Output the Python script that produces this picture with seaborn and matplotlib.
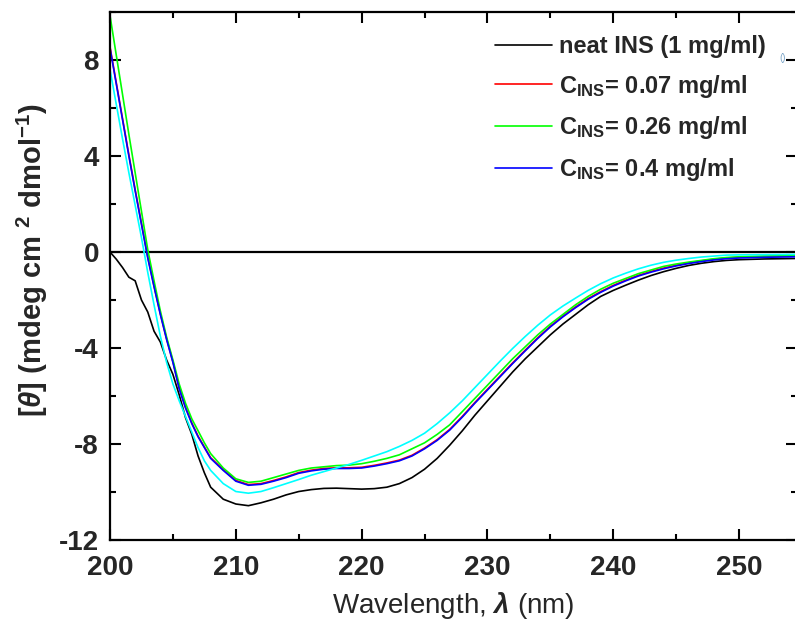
import numpy as np
import pandas as pd
import matplotlib
matplotlib.use("Agg")
import matplotlib.pyplot as plt
import seaborn as sns
from matplotlib.ticker import MultipleLocator

# ---- data ----
wavelength = [200, 200.5, 201, 201.5, 202, 202.5, 203, 203.5, 204, 204.5, 205, 205.5,
              206, 206.5, 207, 207.5, 208, 209, 210, 211, 212, 213, 214, 215, 216, 217,
              218, 219, 220, 221, 222, 223, 224, 225, 226, 227, 228, 229, 230, 231, 232,
              233, 234, 235, 236, 237, 238, 239, 240, 241, 242, 243, 244, 245, 246, 247,
              248, 249, 250, 252, 254.5]

neat_ins = [0.0, -0.3, -0.65, -1.05, -1.2, -2.0, -2.5, -3.3, -3.75, -4.5, -5.1, -5.95,
            -6.9, -7.6, -8.5, -9.2, -9.8, -10.3, -10.5, -10.57, -10.45, -10.3, -10.12, -9.98,
            -9.9, -9.85, -9.84, -9.86, -9.88, -9.86, -9.8, -9.65, -9.4, -9.05, -8.6, -8.05,
            -7.45, -6.8, -6.2, -5.6, -5.0, -4.45, -3.95, -3.45, -3.0, -2.6, -2.2, -1.85,
            -1.6, -1.38, -1.17, -0.98, -0.82, -0.68, -0.56, -0.47, -0.4, -0.35, -0.32,
            -0.29, -0.27]

c_007 = [8.55, 7.05, 5.55, 4.05, 2.6, 1.2, -0.2, -1.42, -2.57, -3.62, -4.57, -5.66,
         -6.46, -7.12, -7.67, -8.12, -8.57, -9.07, -9.52, -9.69, -9.65, -9.52, -9.37, -9.19,
         -9.09, -9.02, -8.99, -8.99, -8.97, -8.89, -8.79, -8.67, -8.47, -8.17, -7.82, -7.39,
         -6.85, -6.27, -5.72, -5.17, -4.62, -4.09, -3.57, -3.09, -2.67, -2.29, -1.94, -1.65,
         -1.39, -1.17, -0.97, -0.81, -0.67, -0.55, -0.45, -0.37, -0.3, -0.25, -0.22,
         -0.19, -0.17]

c_026 = [9.85, 8.2, 6.55, 4.9, 3.3, 1.7, 0.1, -1.2, -2.45, -3.55, -4.5, -5.5,
         -6.3, -6.95, -7.45, -7.95, -8.4, -9.0, -9.45, -9.6, -9.55, -9.4, -9.25, -9.1,
         -9.0, -8.95, -8.9, -8.88, -8.82, -8.72, -8.6, -8.45, -8.2, -7.95, -7.6, -7.2,
         -6.65, -6.1, -5.55, -5.0, -4.45, -3.95, -3.45, -3.0, -2.6, -2.2, -1.85, -1.55,
         -1.3, -1.1, -0.9, -0.75, -0.6, -0.5, -0.42, -0.35, -0.28, -0.23, -0.2,
         -0.17, -0.15]

c_040 = [8.5, 7.0, 5.5, 4.0, 2.55, 1.15, -0.25, -1.45, -2.6, -3.65, -4.6, -5.7,
         -6.5, -7.15, -7.7, -8.15, -8.6, -9.1, -9.55, -9.72, -9.68, -9.55, -9.4, -9.22,
         -9.12, -9.05, -9.02, -9.02, -9.0, -8.92, -8.82, -8.7, -8.5, -8.2, -7.85, -7.42,
         -6.88, -6.3, -5.75, -5.2, -4.65, -4.12, -3.6, -3.12, -2.7, -2.32, -1.97, -1.68,
         -1.42, -1.2, -1.0, -0.84, -0.7, -0.58, -0.48, -0.4, -0.33, -0.28, -0.25,
         -0.22, -0.2]

extra = [7.6, 6.15, 4.7, 3.3, 1.95, 0.6, -0.85, -2.2, -3.5, -4.6, -5.5, -6.2,
         -6.85, -7.5, -8.15, -8.7, -9.1, -9.65, -9.98, -10.05, -9.98, -9.82, -9.65, -9.48,
         -9.3, -9.15, -9.0, -8.85, -8.68, -8.5, -8.32, -8.1, -7.85, -7.55, -7.15, -6.7,
         -6.2, -5.65, -5.1, -4.55, -4.02, -3.52, -3.05, -2.62, -2.25, -1.92, -1.6, -1.32,
         -1.08, -0.88, -0.7, -0.55, -0.43, -0.34, -0.27, -0.21, -0.17, -0.13, -0.12,
         -0.11, -0.1]

labels = ["neat INS (1 mg/ml)",
          r"C$_{\mathbf{INS}}$= 0.07 mg/ml",
          r"C$_{\mathbf{INS}}$= 0.26 mg/ml",
          r"C$_{\mathbf{INS}}$= 0.4 mg/ml",
          "_nolegend_"]
colors = ["#000000", "#ff0000", "#00ff00", "#0000ff", "#00ffff"]
xticks = [200, 210, 220, 230, 240, 250]
yticks = [-12, -8, -4, 0, 4, 8]

# ---- style ----
sns.set_theme(style="ticks")
plt.rcParams['font.family'] = ['Liberation Sans', 'DejaVu Sans']
plt.rcParams['axes.unicode_minus'] = False
plt.rcParams['mathtext.fontset'] = 'custom'
plt.rcParams['mathtext.rm'] = 'Liberation Sans'
plt.rcParams['mathtext.bf'] = 'Liberation Sans:bold'
plt.rcParams['mathtext.it'] = 'Liberation Sans:italic:bold'

fig = plt.figure(figsize=(7.95, 6.23), dpi=100)
ax = fig.add_axes([110/795, 1 - 540/623, (797 - 110)/795, (540 - 12)/623])

series = [neat_ins, c_007, c_026, c_040, extra]
for vals, col, lab in zip(series, colors, labels):
    df = pd.DataFrame({"wl": wavelength, "v": vals})
    sns.lineplot(data=df, x="wl", y="v", color=col, lw=1.2, label=lab, ax=ax,
                 estimator=None, sort=False)

ax.axhline(0, color="black", lw=1.6, zorder=0)

ax.set_xlim(200, 254.6)
ax.set_ylim(-12, 10.0)
ax.set_xticks(xticks)
ax.set_yticks(yticks)
ax.xaxis.set_minor_locator(MultipleLocator(5))
ax.yaxis.set_minor_locator(MultipleLocator(2))
ax.tick_params(which='both', direction='in', top=True, right=True, width=1.5,
               color='black')
ax.tick_params(which='major', length=8)
ax.tick_params(which='minor', length=4.5)
ax.tick_params(axis='x', which='major', labelsize=20, pad=11)
ax.tick_params(axis='y', which='major', labelsize=20, pad=8)
for lab in ax.get_xticklabels() + ax.get_yticklabels():
    lab.set_fontweight('bold')
for s in ax.spines.values():
    s.set_color('black')
    s.set_linewidth(1.6)

ax.set_xlabel(r"Wavelength, $\lambda$ (nm)", fontsize=20, labelpad=6)
ax.set_ylabel(r"[$\theta$] (mdeg cm $^{\mathbf{2}}$ dmol$^{\mathbf{-1}}$)",
              fontsize=21, fontweight='bold')
ax.yaxis.set_label_coords(-0.088, 0.53)

leg = ax.legend(loc='upper left', bbox_to_anchor=(495/795, 1 - 35/623),
                bbox_transform=fig.transFigure, frameon=False, borderpad=0,
                borderaxespad=0, handlelength=2.4, handletextpad=0.3,
                labelspacing=0.62, prop={'size': 17, 'weight': 'bold'})
for line in leg.get_lines():
    line.set_linewidth(1.2)

fig.text(779/795, 1 - 58/623, "()", fontsize=7, color="#7fa7c9",
         ha='left', va='center')

fig.savefig("out.png", dpi=100)
